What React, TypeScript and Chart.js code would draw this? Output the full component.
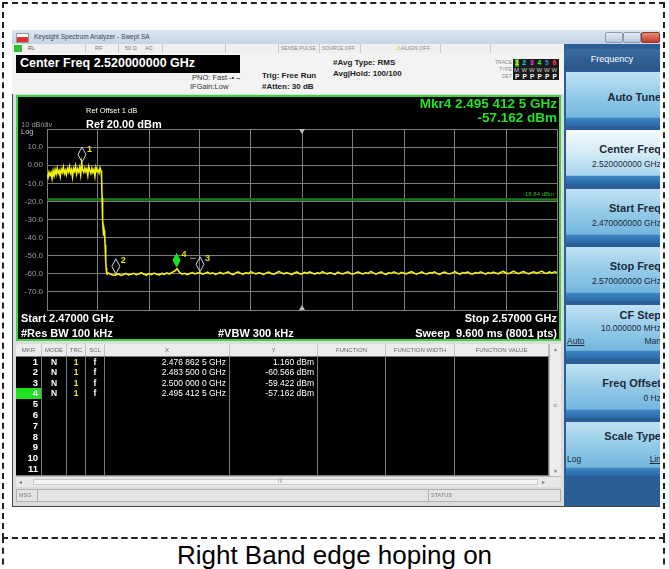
import React, { useEffect, useRef } from "react";
import { Chart, registerables } from "chart.js";
Chart.register(...registerables);

// ---------------- data ----------------
const START_GHZ = 2.47;
const STOP_GHZ = 2.57;
const CENTER_GHZ = 2.52;
const xTickValues = [2.47, 2.48, 2.49, 2.5, 2.51, 2.52, 2.53, 2.54, 2.55, 2.56, 2.57];
const yTickValues = [20, 10, 0, -10, -20, -30, -40, -50, -60, -70, -80];
const yTickLabels = ["", "10.0", "0.00", "-10.0", "-20.0", "-30.0", "-40.0", "-50.0", "-60.0", "-70.0", ""];

// in-band (hopping) trace, sampled every 0.2 MHz from 2.4700 GHz
const inbandStartGHz = 2.47;
const inbandStepGHz = 0.0002;
const inbandLevels = [
  -5.2, -6.8, -3.9, -5.5, -4.1, -7.3, -3.2, -5.8, -2.6, -4.9,
  -1.8, -4.4, -3.1, -6.2, -2.3, -3.8, -1.2, -4.6, -2.9, -5.1,
  -2.0, -3.6, -0.8, -4.2, -2.5, -6.5, -1.9, -3.3, -0.5, -4.8,
  -2.2, -3.7, -1.4, -5.3, 1.16, -2.8, -4.0, -1.6, -3.5, -2.1,
  -5.6, -0.9, -3.0, -4.5, -1.7, -3.9, -2.4, -6.0, -1.3, -3.4,
  -2.7, -4.3, -1.5, -3.2,
];

// band edge roll-off
const edgeFreqs = [2.4807, 2.4808, 2.4809, 2.481, 2.4811, 2.4812, 2.4813, 2.4814, 2.4815, 2.4816, 2.4817, 2.4818];
const edgeLevels = [-6, -18, -30, -35, -39, -36, -38, -44, -52, -57, -59.5, -60.2];

// noise floor, sampled every 0.5 MHz from 2.4820 GHz
const floorStartGHz = 2.482;
const floorStepGHz = 0.0005;
const floorLevels = [
  -59.6, -60.3, -60.8, -60.6, -60.1, -60.9, -60.4, -59.8, -60.6, -60.2, -59.7, -60.5, -60.1, -59.4, -60.3, -60.7, -59.9, -60.4, -59.6, -60.2,
  -60.6, -59.8, -60.3, -59.5, -60.1, -59.2, -58.6, -57.2, -59.3, -60.2, -59.7, -60.4, -59.8, -59.3, -60.1, -59.6, -59.4, -60.2, -59.7, -59.1,
  -60.0, -59.5, -60.3, -59.8, -59.2, -60.1, -59.6, -58.9, -59.9, -60.4, -59.5, -59.0, -59.8, -60.2, -59.4, -59.9, -58.8, -59.6, -60.1, -59.3,
  -59.8, -60.3, -59.5, -59.1, -59.9, -60.2, -59.4, -58.7, -59.6, -60.0, -59.3, -59.8, -60.4, -59.5, -59.0, -59.9, -60.1, -59.2, -59.7, -58.9,
  -59.6, -60.2, -59.4, -59.9, -58.8, -59.5, -60.0, -59.3, -59.8, -60.3, -59.1, -59.7, -60.1, -59.4, -58.9, -59.8, -60.2, -59.5, -59.0, -59.7,
  -60.1, -59.3, -59.8, -58.7, -59.5, -60.2, -59.6, -59.0, -59.9, -60.3, -59.4, -59.8, -58.9, -59.6, -60.1, -59.2, -59.7, -60.0, -59.3, -58.8,
  -59.7, -60.2, -59.5, -59.0, -59.8, -60.1, -59.3, -59.6, -58.9, -59.9, -60.3, -59.4, -59.1, -59.8, -60.0, -59.5, -58.8, -59.7, -60.2, -59.3,
  -59.6, -59.0, -59.9, -60.1, -59.4, -59.7, -58.9, -59.5, -60.2, -59.3, -59.8, -59.1, -59.6, -60.0, -59.2, -58.7, -59.5, -59.9, -59.3, -58.6,
  -59.4, -59.9, -59.1, -58.8, -59.6, -60.0, -59.3, -58.9, -59.7, -59.2, -58.5, -59.4, -59.8, -59.0, -59.5, -58.9, -59.3,
];

const markerIds = [1, 2, 3, 4];
const markerFreqs = [2.4768625, 2.4835, 2.5, 2.4954125];
const markerLevels = [1.16, -60.566, -59.422, -57.162];
const activeMarker = 4;
const displayLineLevel = -18.84;

const softkeyTitles = ["Auto Tune", "Center Freq", "Start Freq", "Stop Freq", "CF Step", "Freq Offset", "Scale Type"];
const softkeyValues = ["", "2.520000000 GHz", "2.470000000 GHz", "2.570000000 GHz", "10.000000 MHz", "0 Hz", ""];

const tableHeads = ["MKR", "MODE", "TRC", "SCL", "X", "Y", "FUNCTION", "FUNCTION WIDTH", "FUNCTION VALUE"];

// ---------------- helpers ----------------
const FONT = '"Liberation Sans", Arial, sans-serif';
const W = 669;

function fmtGHz(f: number) {
  const s = f.toFixed(7);
  const d = s.split(".")[1];
  return `${s.split(".")[0]}.${d.slice(0, 3)} ${d.slice(3, 6)} ${d.slice(6)} GHz`;
}

function Txt(props: any) {
  const { x, y, size, color = "#fff", bold = false, right = false, children, extra } = props;
  const style: any = {
    position: "absolute",
    top: y - size * 0.55,
    fontSize: size,
    lineHeight: `${size * 1.1}px`,
    color,
    fontWeight: bold ? 700 : 400,
    whiteSpace: "nowrap",
    fontFamily: FONT,
    ...(extra || {}),
  };
  if (right) style.right = W - x;
  else style.left = x;
  return <div style={style}>{children}</div>;
}

const tracePoints = [
  ...inbandLevels.map((v, i) => ({ x: inbandStartGHz + i * inbandStepGHz, y: v })),
  ...edgeFreqs.map((f, i) => ({ x: f, y: edgeLevels[i] })),
  ...floorLevels.map((v, i) => ({ x: floorStartGHz + i * floorStepGHz, y: v })),
];

const GRID = "#7c7c7c";

const overlayPlugin = {
  id: "saOverlay",
  beforeDatasetsDraw(chart: any) {
    const { ctx, chartArea: a, scales } = chart;
    const y = Math.round(scales.y.getPixelForValue(displayLineLevel)) + 0.5;
    ctx.save();
    ctx.strokeStyle = "#1d7a1d";
    ctx.lineWidth = 2.5;
    ctx.beginPath();
    ctx.moveTo(a.left, y);
    ctx.lineTo(a.right, y);
    ctx.stroke();
    ctx.fillStyle = "#2fb82f";
    ctx.font = `6px ${FONT}`;
    ctx.textAlign = "right";
    ctx.textBaseline = "bottom";
    ctx.fillText(`${displayLineLevel.toFixed(2)} dBm`, a.right - 3, y - 2);
    const cx = scales.x.getPixelForValue(CENTER_GHZ);
    ctx.fillStyle = "#bdbdbd";
    ctx.beginPath();
    ctx.moveTo(cx - 3, a.top);
    ctx.lineTo(cx + 3, a.top);
    ctx.lineTo(cx, a.top + 5);
    ctx.fill();
    ctx.beginPath();
    ctx.moveTo(cx - 3, a.bottom);
    ctx.lineTo(cx + 3, a.bottom);
    ctx.lineTo(cx, a.bottom - 5);
    ctx.fill();
    ctx.restore();
  },
  afterDatasetsDraw(chart: any) {
    const { ctx, scales } = chart;
    ctx.save();
    markerIds.forEach((id, i) => {
      const px = scales.x.getPixelForValue(markerFreqs[i]);
      const py = scales.y.getPixelForValue(markerLevels[i]);
      const bot = py - 1;
      const top = bot - 15;
      const mid = (top + bot) / 2;
      ctx.beginPath();
      ctx.moveTo(px, top);
      ctx.lineTo(px + 4, mid);
      ctx.lineTo(px, bot);
      ctx.lineTo(px - 4, mid);
      ctx.closePath();
      if (id === activeMarker) {
        ctx.fillStyle = "#19e619";
        ctx.fill();
      } else {
        ctx.strokeStyle = "#d8d8d8";
        ctx.lineWidth = 1;
        ctx.stroke();
      }
      ctx.fillStyle = "#e6e600";
      ctx.font = `bold 9px ${FONT}`;
      ctx.textAlign = "left";
      ctx.textBaseline = "middle";
      ctx.fillText(String(id), px + 5, top + 2);
      if (id === 3) {
        ctx.strokeStyle = "#9a9a9a";
        ctx.beginPath();
        ctx.moveTo(px - 10, top + 1.5);
        ctx.lineTo(px - 4, top + 1.5);
        ctx.stroke();
      }
    });
    ctx.restore();
  },
};

function Spectrum() {
  const ref = useRef<HTMLCanvasElement>(null);
  useEffect(() => {
    const chart = new Chart(ref.current as HTMLCanvasElement, {
      type: "line",
      data: {
        datasets: [
          {
            data: tracePoints as any,
            borderColor: "#f2f20c",
            borderWidth: 1.6,
            pointRadius: 0,
            tension: 0,
          },
        ],
      },
      options: {
        animation: false,
        responsive: false,
        devicePixelRatio: 1,
        events: [],
        layout: { padding: { left: 0, right: 2, top: 32, bottom: 29 } },
        plugins: { legend: { display: false }, tooltip: { enabled: false } },
        scales: {
          x: {
            type: "linear",
            min: START_GHZ,
            max: STOP_GHZ,
            afterBuildTicks: (s: any) => {
              s.ticks = xTickValues.map((v) => ({ value: v }));
            },
            afterFit: (s: any) => {
              s.height = 0;
            },
            ticks: { display: false },
            grid: { color: GRID, drawTicks: false, lineWidth: 1 },
            border: { display: true, color: GRID },
          },
          y: {
            type: "linear",
            min: -80,
            max: 20,
            afterBuildTicks: (s: any) => {
              s.ticks = yTickValues.map((v) => ({ value: v }));
            },
            afterFit: (s: any) => {
              s.width = 29;
            },
            ticks: {
              autoSkip: false,
              color: "#9c9c9c",
              padding: 4,
              font: { size: 8, family: FONT },
              callback: (_v: any, i: number) => yTickLabels[i] ?? "",
            },
            grid: { color: GRID, drawTicks: false, lineWidth: 1 },
            border: { display: true, color: GRID },
          },
        },
      } as any,
      plugins: [overlayPlugin as any],
    });
    return () => chart.destroy();
  }, []);
  return (
    <canvas
      ref={ref}
      width={541}
      height={242}
      style={{ position: "absolute", left: 18, top: 97, width: 541, height: 242 }}
    />
  );
}

function MarkerTable() {
  const colW = [26, 25, 19, 19, 125, 88, 68, 69, 94];
  const colX: number[] = [];
  let acc = 16;
  colW.forEach((w) => {
    colX.push(acc);
    acc += w;
  });
  const headTop = 344;
  const headH = 12;
  const rowTop = 356;
  const rowH = 10.8;
  const cells: any[] = [];
  tableHeads.forEach((h, c) => {
    cells.push(
      <div
        key={"h" + c}
        style={{
          position: "absolute",
          left: colX[c],
          top: headTop,
          width: colW[c],
          height: headH,
          boxSizing: "border-box",
          borderRight: "1px solid #c4c4c4",
          background: "#ececec",
          fontSize: 6,
          lineHeight: `${headH}px`,
          color: "#666",
          textAlign: "center",
          fontFamily: FONT,
          whiteSpace: "nowrap",
          overflow: "hidden",
        }}
      >
        {h}
      </div>
    );
  });
  for (let r = 0; r < 11; r++) {
    const top = rowTop + r * rowH;
    const mi = r < markerIds.length ? r : -1;
    const vals = [
      String(r + 1),
      mi >= 0 ? "N" : "",
      mi >= 0 ? "1" : "",
      mi >= 0 ? "f" : "",
      mi >= 0 ? fmtGHz(markerFreqs[mi]) : "",
      mi >= 0 ? `${markerLevels[mi].toFixed(3)} dBm` : "",
      "",
      "",
      "",
    ];
    colW.forEach((w, c) => {
      const isActive = c === 0 && mi >= 0 && markerIds[mi] === activeMarker;
      cells.push(
        <div
          key={`r${r}c${c}`}
          style={{
            position: "absolute",
            left: colX[c],
            top,
            width: w,
            height: rowH + 1,
            boxSizing: "border-box",
            border: "1px solid #7a7a7a",
            borderLeft: "none",
            borderTop: r === 0 ? "1px solid #7a7a7a" : "none",
            background: isActive ? "#22e022" : "#000",
            color: c === 2 ? "#f0f000" : "#fff",
            fontSize: c === 0 ? 9.5 : 8.5,
            fontWeight: c <= 3 ? 700 : 400,
            lineHeight: `${rowH}px`,
            textAlign: c === 0 ? "right" : c <= 3 ? "center" : "right",
            paddingRight: c === 0 ? 3 : c >= 4 ? 3 : 0,
            fontFamily: FONT,
            whiteSpace: "nowrap",
            overflow: "hidden",
          }}
        >
          {vals[c]}
        </div>
      );
    });
  }
  return (
    <>
      <div style={{ position: "absolute", left: 16, top: headTop, width: 545, height: 143, background: "#000" }} />
      {cells}
      <div
        style={{
          position: "absolute",
          left: 549,
          top: headTop,
          width: 12,
          height: 132,
          background: "#ececec",
          borderLeft: "1px solid #bbb",
          boxSizing: "border-box",
        }}
      >
        <div style={{ position: "absolute", top: 2, left: 3, fontSize: 5, color: "#777" }}>▲</div>
        <div style={{ position: "absolute", top: 58, left: 3, fontSize: 7, color: "#888", fontFamily: FONT }}>≡</div>
        <div style={{ position: "absolute", bottom: 2, left: 3, fontSize: 5, color: "#777" }}>▼</div>
      </div>
      <div
        style={{
          position: "absolute",
          left: 16,
          top: 476,
          width: 545,
          height: 11,
          background: "#e8e8e8",
          borderTop: "1px solid #bbb",
          boxSizing: "border-box",
        }}
      >
        <div style={{ position: "absolute", top: 1, left: 3, fontSize: 6, color: "#777" }}>◂</div>
        <div
          style={{
            position: "absolute",
            top: 2,
            left: 17,
            width: 505,
            height: 6,
            background: "#f4f4f4",
            border: "1px solid #c8c8c8",
            boxSizing: "border-box",
          }}
        />
        <div style={{ position: "absolute", top: 0, left: 262, fontSize: 6, color: "#999", fontFamily: FONT }}>|||</div>
        <div style={{ position: "absolute", top: 1, right: 16, fontSize: 6, color: "#777" }}>▸</div>
      </div>
    </>
  );
}

function Softkeys() {
  const keys: any[] = [];
  softkeyTitles.forEach((t, i) => {
    const top = 72 + i * 58.3;
    const selected = i === 1;
    const bg = selected
      ? "linear-gradient(to bottom, #f2f9fd 0%, #d6ecf7 40%, #a8d4ed 84%, #3d86c4 85%, #2a6aa8 100%)"
      : "linear-gradient(to bottom, #bfe2f3 0%, #97cce9 40%, #74b6de 84%, #3d86c4 85%, #2a6aa8 100%)";
    keys.push(
      <div
        key={t}
        style={{
          position: "absolute",
          left: 2,
          top: top - 44,
          width: 100,
          height: 54,
          background: bg,
          fontFamily: FONT,
        }}
      >
        <div
          style={{
            position: "absolute",
            right: 5,
            top: i === 0 ? 19 : i === 4 ? 4 : i === 6 ? 8 : 13,
            fontSize: 11,
            fontWeight: 700,
            color: "#1c2a3a",
            whiteSpace: "nowrap",
          }}
        >
          {t}
        </div>
        {softkeyValues[i] && (
          <div
            style={{
              position: "absolute",
              right: 5,
              top: i === 4 ? 18 : 29,
              fontSize: 8.5,
              color: "#1c2a3a",
              whiteSpace: "nowrap",
            }}
          >
            {softkeyValues[i]}
          </div>
        )}
        {i === 4 && (
          <>
            <div style={{ position: "absolute", left: 1, top: 31, fontSize: 8.5, color: "#1c2a3a", textDecoration: "underline" }}>Auto</div>
            <div style={{ position: "absolute", right: 5, top: 31, fontSize: 8.5, color: "#1c2a3a" }}>Man</div>
          </>
        )}
        {i === 6 && (
          <>
            <div style={{ position: "absolute", left: 1, top: 32, fontSize: 8.5, color: "#1c2a3a" }}>Log</div>
            <div style={{ position: "absolute", right: 5, top: 32, fontSize: 8.5, color: "#1c2a3a", textDecoration: "underline" }}>Lin</div>
          </>
        )}
      </div>
    );
  });
  return (
    <div
      style={{
        position: "absolute",
        left: 564,
        top: 44,
        width: 96,
        height: 462,
        background: "#2b5e96",
        overflow: "hidden",
      }}
    >
      <div
        style={{
          position: "absolute",
          left: 0,
          top: 5,
          width: 96,
          height: 21,
          background: "linear-gradient(to bottom, #3a6aa0, #2a5588)",
          color: "#fff",
          fontSize: 9,
          lineHeight: "21px",
          textAlign: "center",
          fontFamily: FONT,
        }}
      >
        Frequency
      </div>
      {keys}
    </div>
  );
}

function Header() {
  const traceColors = ["#ffff00", "#00e5ff", "#ff44ff", "#44ff44", "#4488ff", "#ff4444"];
  return (
    <>
      <div
        style={{
          position: "absolute",
          left: 12,
          top: 30,
          width: 648,
          height: 14,
          background: "linear-gradient(to bottom, #d9e4ef, #c6d5e5)",
        }}
      />
      <div style={{ position: "absolute", left: 16, top: 33, width: 11, height: 8, background: "linear-gradient(to bottom, #fff 40%, #d33 40%)", border: "1px solid #999" }} />
      <Txt x={34} y={37} size={6.5} color="#3a4a5a">Keysight Spectrum Analyzer - Swept SA</Txt>
      <div style={{ position: "absolute", left: 605, top: 32, width: 16, height: 9, background: "linear-gradient(#e4ecf4,#b9c9da)", border: "1px solid #8a9bb0", borderRadius: 2 }} />
      <div style={{ position: "absolute", left: 623, top: 32, width: 16, height: 9, background: "linear-gradient(#e4ecf4,#b9c9da)", border: "1px solid #8a9bb0", borderRadius: 2 }} />
      <div style={{ position: "absolute", left: 641, top: 32, width: 17, height: 9, background: "linear-gradient(#e88a7a,#c5392a)", border: "1px solid #8a3a30", borderRadius: 2 }} />
      <div style={{ position: "absolute", left: 12, top: 44, width: 552, height: 9, background: "#efefef", borderBottom: "1px solid #c0c0c0" }} />
      <div style={{ position: "absolute", left: 14, top: 45, width: 8, height: 7, background: "#2fbf2f" }} />
      <Txt x={28} y={48.5} size={5.5} color="#555">RL</Txt>
      <Txt x={95} y={48.5} size={5.5} color="#777">RF</Txt>
      <Txt x={125} y={48.5} size={5.5} color="#777">50 Ω</Txt>
      <Txt x={145} y={48.5} size={5.5} color="#777">AC</Txt>
      <Txt x={281} y={48.5} size={5} color="#888">SENSE:PULSE</Txt>
      <Txt x={322} y={48.5} size={5} color="#888">SOURCE OFF</Txt>
      <Txt x={396} y={48.5} size={5.5} color="#888"><span style={{ color: "#e0a000" }}>⚠</span>ALIGN OFF</Txt>
      {[85, 118, 162, 225, 278, 319, 360, 440, 490].map((x) => (
        <div key={x} style={{ position: "absolute", left: x, top: 44, width: 1, height: 9, background: "#c8c8c8" }} />
      ))}
      <div style={{ position: "absolute", left: 12, top: 53, width: 552, height: 41, background: "#f3f3f3" }} />
      <div style={{ position: "absolute", left: 16, top: 55, width: 224, height: 18, background: "#000" }} />
      <Txt x={20} y={64} size={12.5} bold>Center Freq 2.520000000 GHz</Txt>
      <Txt x={192} y={78} size={7.5} color="#333">PNO: Fast ‑•→</Txt>
      <Txt x={190} y={87} size={7.5} color="#333">IFGain:Low</Txt>
      <Txt x={262} y={76} size={8} color="#222" bold>Trig: Free Run</Txt>
      <Txt x={262} y={87} size={8} color="#222" bold>#Atten: 30 dB</Txt>
      <Txt x={333} y={63} size={8} color="#222" bold>#Avg Type: RMS</Txt>
      <Txt x={333} y={74} size={8} color="#222" bold>Avg|Hold: 100/100</Txt>
      <Txt x={512} y={63} size={5} color="#888" right>TRACE</Txt>
      <Txt x={512} y={70} size={5} color="#888" right>TYPE</Txt>
      <Txt x={512} y={77} size={5} color="#888" right>DET</Txt>
      <div style={{ position: "absolute", left: 513, top: 59, width: 46, height: 21, background: "#1a1a1a" }} />
      {traceColors.map((c, i) => (
        <React.Fragment key={i}>
          <Txt x={515 + i * 7.5} y={63} size={6.5} bold color={c} extra={i === 0 ? { background: "#2a9a2a" } : {}}>{String(i + 1)}</Txt>
          <Txt x={514 + i * 7.5} y={70} size={6} color="#ccc">{i === 0 ? "M" : "W"}</Txt>
          <Txt x={515 + i * 7.5} y={77} size={6.5} bold color="#fff">P</Txt>
        </React.Fragment>
      ))}
    </>
  );
}

export default function App() {
  return (
    <div
      style={{
        position: "fixed",
        left: 0,
        top: 0,
        width: 669,
        height: 569,
        background: "#fff",
        overflow: "hidden",
        fontFamily: FONT,
      }}
    >
      <div style={{ position: "absolute", left: 2, top: 2, width: 663, height: 537, border: "2px dashed #222", boxSizing: "border-box" }} />
      <div style={{ position: "absolute", left: 2, top: 537, width: 663, height: 60, border: "2px dashed #222", boxSizing: "border-box" }} />
      <div style={{ position: "absolute", left: 12, top: 30, width: 648, height: 477, background: "#dcdcdc", border: "1px solid #444", boxSizing: "border-box" }} />
      <Header />
      <div style={{ position: "absolute", left: 16, top: 95, width: 545, height: 246, background: "#000", border: "2px solid #3bd63b", boxSizing: "border-box" }} />
      <Spectrum />
      <Txt x={86} y={111} size={7.5}>Ref Offset 1 dB</Txt>
      <Txt x={86} y={124} size={11} bold>Ref 20.00 dBm</Txt>
      <Txt x={21} y={125} size={7.5} color="#9a9a9a">10 dB/div</Txt>
      <Txt x={21} y={132} size={7.5} color="#c8c8c8">Log</Txt>
      <Txt x={557} y={104} size={13.5} bold color="#22e022" right>{`Mkr${activeMarker} ${fmtGHz(markerFreqs[activeMarker - 1])}`}</Txt>
      <Txt x={557} y={118} size={13.5} bold color="#22e022" right>{`${markerLevels[activeMarker - 1].toFixed(3)} dBm`}</Txt>
      <Txt x={21} y={318} size={11} bold>Start 2.47000 GHz</Txt>
      <Txt x={557} y={318} size={11} bold right>Stop 2.57000 GHz</Txt>
      <Txt x={21} y={333} size={11} bold>#Res BW 100 kHz</Txt>
      <Txt x={218} y={333} size={11} bold>#VBW 300 kHz</Txt>
      <Txt x={557} y={333} size={11} bold right>Sweep&nbsp;&nbsp;9.600 ms (8001 pts)</Txt>
      <MarkerTable />
      <div style={{ position: "absolute", left: 16, top: 489, width: 545, height: 13, background: "#e4e4e4", border: "1px solid #b0b0b0", boxSizing: "border-box" }} />
      <div style={{ position: "absolute", left: 37, top: 489, width: 1, height: 13, background: "#b0b0b0" }} />
      <div style={{ position: "absolute", left: 428, top: 489, width: 1, height: 13, background: "#b0b0b0" }} />
      <Txt x={19} y={495.5} size={5.5} color="#777">MSG</Txt>
      <Txt x={431} y={495.5} size={5.5} color="#777">STATUS</Txt>
      <Softkeys />
      <div
        style={{
          position: "absolute",
          left: 0,
          top: 542,
          width: 669,
          textAlign: "center",
          fontSize: 26,
          lineHeight: "26px",
          color: "#000",
          fontFamily: FONT,
          whiteSpace: "nowrap",
        }}
      >
        Right Band edge hoping on
      </div>
    </div>
  );
}
